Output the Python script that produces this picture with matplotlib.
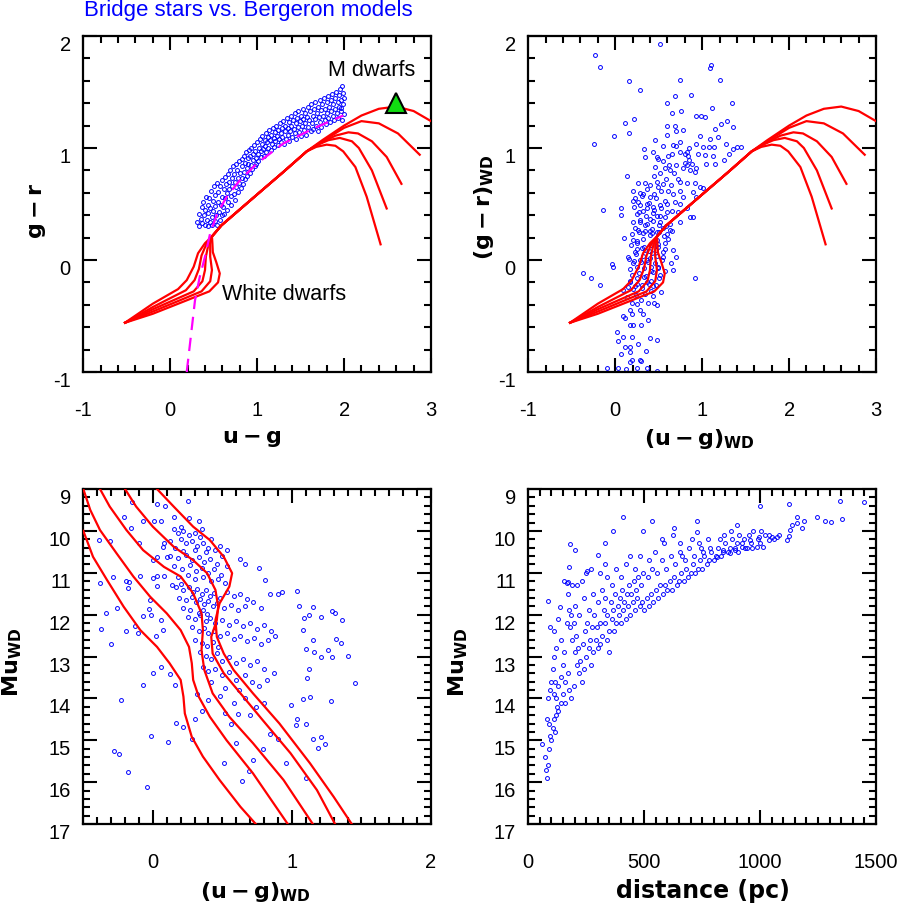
import numpy as np
import matplotlib
matplotlib.use("Agg")
import matplotlib.pyplot as plt
from matplotlib.ticker import MultipleLocator

plt.rcParams["font.family"] = ["Liberation Sans", "DejaVu Sans"]
plt.rcParams["axes.unicode_minus"] = False
plt.rcParams["mathtext.fontset"] = "dejavusans"

# ---------------- data ----------------
# top-left: bridge stars, (u-g, g-r)
tl_points = [
    (0.31, 0.34), (0.33, 0.41), (0.335, 0.30), (0.35, 0.37), (0.36, 0.47), (0.37, 0.33), (0.38, 0.52),
    (0.385, 0.40), (0.40, 0.31), (0.405, 0.45), (0.41, 0.56), (0.42, 0.36), (0.43, 0.49), (0.435, 0.30),
    (0.44, 0.42), (0.45, 0.55), (0.455, 0.34),
    (0.46, 0.46), (0.47, 0.62), (0.475, 0.38), (0.48, 0.31), (0.49, 0.53), (0.495, 0.44), (0.50, 0.66),
    (0.51, 0.35), (0.515, 0.58), (0.52, 0.48), (0.53, 0.40), (0.535, 0.69), (0.54, 0.31), (0.55, 0.52),
    (0.555, 0.61), (0.56, 0.43), (0.57, 0.36), (0.575, 0.66), (0.58, 0.49), (0.59, 0.56), (0.595, 0.40),
    (0.60, 0.71),
    (0.61, 0.47), (0.615, 0.63), (0.62, 0.41), (0.63, 0.55), (0.635, 0.74), (0.64, 0.68), (0.65, 0.45),
    (0.655, 0.60), (0.66, 0.77), (0.67, 0.52), (0.675, 0.70), (0.68, 0.63), (0.69, 0.80), (0.695, 0.57),
    (0.70, 0.49), (0.71, 0.73), (0.715, 0.66), (0.72, 0.84), (0.73, 0.59), (0.735, 0.77), (0.74, 0.70),
    (0.75, 0.54), (0.755, 0.86), (0.76, 0.65), (0.77, 0.80), (0.775, 0.73), (0.78, 0.61), (0.79, 0.88),
    (0.795, 0.69),
    (0.805, 0.78), (0.81, 0.64), (0.82, 0.90), (0.825, 0.73), (0.83, 0.84), (0.84, 0.68), (0.845, 0.93),
    (0.85, 0.79), (0.86, 0.87), (0.865, 0.72), (0.87, 0.96), (0.88, 0.82), (0.885, 0.75), (0.89, 0.91),
    (0.90, 0.86), (0.91, 0.98), (0.915, 0.78), (0.92, 0.93), (0.93, 0.85), (0.935, 1.00), (0.94, 0.81),
    (0.95, 0.95), (0.955, 0.89), (0.96, 1.03), (0.97, 0.84), (0.98, 0.97), (0.985, 0.91), (0.99, 0.86),
    (1.00, 1.05), (1.01, 0.95), (1.015, 0.88), (1.02, 1.00), (1.03, 1.08), (1.04, 0.92), (1.045, 0.97),
    (1.055, 1.04), (1.06, 1.11), (1.07, 0.99), (1.075, 0.93), (1.085, 1.07), (1.09, 1.02), (1.10, 1.13),
    (1.105, 0.96), (1.115, 1.05), (1.12, 1.10), (1.13, 1.00), (1.14, 1.16), (1.145, 1.07), (1.155, 0.98),
    (1.165, 1.12), (1.17, 1.04), (1.18, 1.18), (1.19, 1.09), (1.195, 1.01), (1.205, 1.14), (1.21, 1.06),
    (1.22, 1.20), (1.23, 1.11), (1.235, 1.03), (1.245, 1.16), (1.25, 1.08), (1.26, 1.22), (1.27, 1.13),
    (1.275, 1.05), (1.285, 1.18), (1.29, 1.10),
    (1.30, 1.24), (1.31, 1.04), (1.315, 1.15), (1.325, 1.20), (1.33, 1.08), (1.34, 1.27), (1.35, 1.12),
    (1.355, 1.18), (1.365, 1.23), (1.37, 1.06), (1.38, 1.15), (1.39, 1.29), (1.395, 1.20), (1.405, 1.10),
    (1.41, 1.25), (1.42, 1.17), (1.43, 1.31), (1.435, 1.13), (1.445, 1.22), (1.45, 1.08), (1.46, 1.27),
    (1.47, 1.19), (1.475, 1.33), (1.485, 1.14), (1.49, 1.24), (1.50, 1.29), (1.51, 1.11), (1.515, 1.20),
    (1.525, 1.35), (1.53, 1.26), (1.54, 1.16), (1.55, 1.31), (1.555, 1.22), (1.565, 1.12), (1.57, 1.28),
    (1.58, 1.37), (1.59, 1.19),
    (1.60, 1.25), (1.605, 1.33), (1.615, 1.15), (1.62, 1.39), (1.63, 1.22), (1.64, 1.29), (1.645, 1.17),
    (1.655, 1.35), (1.66, 1.26), (1.67, 1.41), (1.68, 1.20), (1.685, 1.31), (1.695, 1.37), (1.70, 1.15),
    (1.71, 1.28), (1.72, 1.43), (1.725, 1.23), (1.735, 1.34), (1.74, 1.19), (1.75, 1.39), (1.76, 1.29),
    (1.765, 1.45), (1.775, 1.25), (1.78, 1.35), (1.79, 1.21), (1.80, 1.41), (1.805, 1.31), (1.815, 1.46),
    (1.82, 1.27), (1.83, 1.37), (1.835, 1.23), (1.845, 1.43), (1.85, 1.33), (1.86, 1.48), (1.87, 1.29),
    (1.875, 1.39), (1.885, 1.25), (1.89, 1.45), (1.90, 1.35), (1.91, 1.50), (1.915, 1.31), (1.925, 1.41),
    (1.93, 1.27), (1.94, 1.47), (1.945, 1.37), (1.955, 1.53), (1.96, 1.33), (1.97, 1.43), (1.975, 1.25),
    (1.985, 1.49), (1.99, 1.39), (1.995, 1.30), (2.00, 1.45), (1.98, 1.55), (1.97, 1.36),
]

# top-right: white dwarf component, ((u-g)_WD, (g-r)_WD)
tr_points = [
    (-0.23, 1.83), (-0.18, 1.72), (0.16, 1.60), (0.28, 1.52), (0.52, 1.93), (0.74, 1.61), (1.09, 1.71),
    (1.10, 1.74), (1.20, 1.61), (0.69, 1.46), (0.87, 1.47), (0.60, 1.40), (1.34, 1.40), (-0.24, 1.04),
    (-0.01, 1.11), (0.11, 1.22), (0.22, 1.26), (0.16, 1.13), (0.65, 1.31), (0.76, 1.33), (0.60, 1.20),
    (0.69, 1.20), (0.78, 1.16), (0.93, 1.29), (0.99, 1.29), (1.03, 1.28), (1.11, 1.36), (1.22, 1.21),
    (1.29, 1.24), (1.36, 1.19), (1.15, 1.17), (1.18, 1.10), (1.09, 1.08), (0.98, 1.11), (0.93, 1.04),
    (1.01, 1.01), (1.08, 1.01), (1.14, 1.01), (1.27, 1.04), (1.36, 0.99), (1.40, 1.01), (1.45, 1.01),
    (1.31, 0.95), (1.25, 0.89), (1.13, 0.93), (1.15, 0.86), (1.05, 0.86), (1.03, 0.94), (0.95, 0.95),
    (0.82, 0.96), (0.84, 0.93), (0.74, 0.96), (0.70, 1.02), (0.67, 1.03), (0.55, 1.02), (0.46, 1.07),
    (0.33, 0.99), (0.43, 0.96), (0.49, 0.90), (0.61, 0.93), (0.80, 0.87), (0.83, 0.85), (0.85, 0.89),
    (0.88, 0.86), (0.93, 0.82), (0.92, 0.79), (0.86, 0.80), (0.78, 0.82), (0.70, 0.85), (0.63, 0.80),
    (0.57, 0.82), (0.46, 0.83), (0.34, 0.92), (0.13, 0.75), (0.26, 0.69), (0.34, 0.69), (0.40, 0.67),
    (0.48, 0.70), (0.55, 0.68), (0.64, 0.67), (0.74, 0.70), (0.83, 0.69), (0.92, 0.69), (0.98, 0.65),
    (1.01, 0.64), (0.93, 0.56), (0.90, 0.61), (0.78, 0.56), (0.74, 0.62), (0.67, 0.59), (0.61, 0.62),
    (0.49, 0.65), (0.40, 0.56), (0.32, 0.59), (0.20, 0.53), (0.26, 0.52), (0.36, 0.50), (0.44, 0.47),
    (0.51, 0.49), (0.59, 0.50), (0.69, 0.52), (0.74, 0.50), (0.72, 0.43), (0.65, 0.44), (0.57, 0.38),
    (0.48, 0.39), (0.40, 0.37), (0.32, 0.44), (0.25, 0.41), (0.28, 0.34), (0.23, 0.29), (0.32, 0.24),
    (0.40, 0.26), (0.48, 0.25), (0.55, 0.29), (0.63, 0.32), (0.74, 0.34), (0.86, 0.38), (0.89, 0.38),
    (0.83, 0.46), (-0.14, 0.45), (0.07, 0.46), (0.07, 0.40), (0.10, 0.20), (0.21, 0.18), (0.25, 0.10),
    (0.34, 0.09), (0.42, 0.06), (0.49, 0.12), (0.57, 0.10), (0.61, 0.19), (0.67, 0.09), (0.70, 0.03),
    (0.64, -0.03), (0.55, 0.03), (0.49, -0.06), (0.41, -0.06), (0.36, 0.00), (0.28, 0.00), (0.21, -0.03),
    (0.15, 0.03), (-0.04, -0.04), (-0.02, -0.06), (-0.37, -0.12), (-0.28, -0.16), (-0.18, -0.22),
    (0.67, -0.09), (0.92, -0.16), (0.53, -0.29), (0.44, -0.23), (0.36, -0.20), (0.25, -0.21),
    (0.17, -0.20), (0.09, -0.27), (0.13, -0.33), (0.19, -0.38), (0.25, -0.39), (0.30, -0.36),
    (0.38, -0.38), (0.45, -0.38), (0.48, -0.40), (0.17, -0.45), (0.19, -0.48), (0.28, -0.45),
    (0.32, -0.48), (0.09, -0.50), (0.11, -0.52), (0.17, -0.58), (0.20, -0.58), (0.30, -0.58),
    (0.38, -0.54), (0.02, -0.64), (0.03, -0.72), (0.09, -0.69), (0.19, -0.69), (0.26, -0.75),
    (0.40, -0.70), (0.48, -0.71), (0.11, -0.78), (0.17, -0.78), (0.35, -0.81), (0.17, -0.82),
    (0.07, -0.84), (0.17, -0.91), (0.19, -0.89), (0.28, -0.89), (0.30, -0.90), (-0.10, -0.96),
    (0.03, -0.96), (0.12, -0.97), (0.25, -0.96), (0.36, -0.96), (0.48, -0.99),
    (0.21, 0.62), (0.23, 0.55), (0.29, 0.60), (0.31, 0.57), (0.37, 0.63), (0.39, 0.51), (0.45, 0.59),
    (0.47, 0.55), (0.53, 0.62), (0.57, 0.53), (0.22, 0.47), (0.27, 0.43), (0.29, 0.49), (0.35, 0.39),
    (0.37, 0.46), (0.43, 0.42), (0.45, 0.45), (0.51, 0.39), (0.53, 0.46), (0.59, 0.43), (0.21, 0.34),
    (0.26, 0.27), (0.28, 0.36), (0.34, 0.31), (0.36, 0.32), (0.42, 0.28), (0.44, 0.35), (0.50, 0.31),
    (0.52, 0.34), (0.58, 0.30), (0.63, 0.27), (0.19, 0.23), (0.25, 0.17), (0.27, 0.25), (0.32, 0.19),
    (0.34, 0.26), (0.40, 0.22), (0.42, 0.24), (0.48, 0.18), (0.50, 0.25), (0.56, 0.21), (0.59, 0.23),
    (0.65, 0.26), (0.18, 0.13), (0.23, 0.07), (0.25, 0.15), (0.31, 0.11), (0.33, 0.12), (0.39, 0.08),
    (0.41, 0.13), (0.47, 0.09), (0.49, 0.14), (0.55, 0.07), (0.57, 0.15), (0.16, 0.01), (0.22, -0.01),
    (0.24, 0.05), (0.30, -0.02), (0.32, 0.04), (0.38, -0.02), (0.40, 0.02), (0.46, -0.03), (0.48, 0.04),
    (0.54, 0.00), (0.17, -0.08), (0.19, -0.13), (0.25, -0.06), (0.27, -0.12), (0.33, -0.07),
    (0.35, -0.14), (0.41, -0.10), (0.43, -0.11), (0.49, -0.07), (0.51, -0.13), (0.57, -0.10),
    (0.17, -0.19), (0.23, -0.23), (0.25, -0.16), (0.31, -0.22), (0.33, -0.15), (0.39, -0.21),
    (0.41, -0.19), (0.47, -0.22), (0.50, -0.16), (0.21, -0.26), (0.24, -0.31), (0.31, -0.25),
    (0.34, -0.30), (0.41, -0.28), (0.44, -0.32), (0.15, -0.24), (0.45, 0.75), (0.52, 0.78),
    (0.58, 0.72), (0.62, 0.85), (0.68, 0.78), (0.55, 0.88), (0.48, 0.92), (0.72, 0.72), (0.65, 0.95),
    (0.80, 0.95), (0.85, 1.00), (0.75, 1.05), (0.60, 1.12), (0.70, 1.15),
]

# bottom-left: ((u-g)_WD, Mu_WD)
bl_points = [
    (0.25, 9.29), (0.03, 9.37), (0.09, 9.41), (-0.15, 9.30), (-0.21, 9.66), (-0.16, 9.92), (-0.07, 9.76),
    (0.01, 9.76), (0.06, 9.76), (-0.39, 10.22), (-0.31, 10.24), (-0.10, 10.30), (0.08, 10.30),
    (0.15, 9.66), (0.20, 9.90), (0.26, 9.70), (0.33, 9.76), (0.35, 9.96), (0.53, 10.46), (0.63, 10.66),
    (0.66, 10.78), (0.76, 10.88), (0.81, 11.17), (1.04, 11.44), (0.93, 11.45), (0.84, 11.51),
    (0.90, 11.51), (1.05, 11.79), (1.15, 11.81), (1.12, 12.01), (1.09, 12.09), (1.21, 12.05),
    (1.29, 11.91), (1.31, 11.97), (1.36, 12.14), (1.08, 12.37), (1.15, 12.61), (1.10, 12.82),
    (1.16, 12.90), (1.21, 13.00), (1.26, 12.85), (1.29, 13.00), (1.32, 12.58), (1.35, 12.67),
    (1.40, 12.98), (1.45, 13.64), (1.12, 13.30), (1.11, 13.52), (1.13, 13.96), (1.08, 14.02),
    (1.28, 14.06), (0.99, 14.16), (1.04, 14.50), (1.03, 14.64), (1.10, 14.61), (1.15, 14.98),
    (1.21, 14.93), (1.19, 15.19), (1.24, 15.09), (1.10, 15.91), (0.96, 15.55), (0.90, 14.96),
    (0.84, 14.84), (0.79, 15.22), (0.72, 15.47), (0.69, 15.73), (0.64, 15.97), (0.60, 15.06),
    (0.61, 14.38), (0.56, 14.62), (0.51, 15.54), (0.28, 14.98), (0.17, 14.58), (0.22, 14.69),
    (0.11, 15.04), (-0.01, 14.89), (-0.04, 16.11), (-0.18, 15.77), (-0.28, 15.25), (-0.24, 15.33),
    (-0.23, 14.04), (-0.07, 13.67), (0.00, 13.39), (0.06, 13.26), (0.16, 13.67), (0.12, 13.42),
    (-0.30, 12.69), (-0.37, 12.35), (-0.34, 11.97), (-0.26, 11.85), (-0.19, 12.39), (-0.13, 12.27),
    (-0.11, 12.45), (-0.07, 12.03), (-0.03, 11.87), (-0.01, 12.01), (0.06, 12.14), (0.07, 12.37),
    (0.02, 12.51), (-0.19, 11.20), (-0.18, 11.37), (-0.17, 11.21), (-0.29, 11.09), (-0.38, 11.25),
    (-0.09, 11.08), (0.00, 11.12), (0.03, 11.32), (-0.02, 11.65), (0.03, 11.08), (0.08, 11.08),
    (0.00, 10.70), (0.03, 10.63), (0.07, 10.38), (0.10, 10.62),
    (0.15, 9.95), (0.18, 10.05), (0.22, 10.00), (0.26, 10.10), (0.30, 10.05), (0.34, 10.15),
    (0.20, 10.20), (0.24, 10.30), (0.28, 10.25), (0.32, 10.35), (0.36, 10.28), (0.40, 10.40),
    (0.12, 10.25), (0.16, 10.40), (0.42, 10.20), (0.38, 10.50), (0.30, 10.45), (0.22, 10.48),
    (0.45, 10.45), (0.48, 10.35), (0.12, 10.60), (0.18, 10.65), (0.24, 10.58), (0.28, 10.70),
    (0.33, 10.62), (0.37, 10.75), (0.41, 10.66), (0.46, 10.78), (0.50, 10.60), (0.15, 10.85),
    (0.21, 10.90), (0.27, 10.82), (0.31, 10.95), (0.35, 10.88), (0.40, 11.00), (0.44, 10.92),
    (0.49, 11.05), (0.53, 10.85), (0.18, 11.10), (0.25, 11.05), (0.30, 11.15), (0.36, 11.10),
    (0.42, 11.20), (0.47, 11.15), (0.52, 11.25), (0.14, 11.30), (0.17, 11.35), (0.20, 11.28),
    (0.22, 11.40), (0.26, 11.33), (0.29, 11.45), (0.32, 11.38), (0.35, 11.50), (0.38, 11.42),
    (0.41, 11.55), (0.44, 11.48), (0.48, 11.60), (0.53, 11.45), (0.58, 11.55), (0.63, 11.50),
    (0.68, 11.62), (0.19, 11.60), (0.24, 11.65), (0.28, 11.58), (0.31, 11.70), (0.34, 11.63),
    (0.37, 11.75), (0.40, 11.68), (0.43, 11.80), (0.46, 11.72), (0.51, 11.85), (0.56, 11.78),
    (0.61, 11.90), (0.66, 11.80), (0.72, 11.70), (0.78, 11.85), (0.22, 11.85), (0.27, 11.90),
    (0.33, 11.95), (0.36, 11.88), (0.39, 11.98), (0.25, 12.05), (0.30, 12.10), (0.34, 12.02),
    (0.38, 12.15), (0.41, 12.08), (0.45, 12.20), (0.50, 12.12), (0.55, 12.25), (0.60, 12.15),
    (0.65, 12.28), (0.70, 12.20), (0.75, 12.35), (0.80, 12.25), (0.85, 12.40), (0.28, 12.30),
    (0.33, 12.38), (0.37, 12.32), (0.40, 12.45), (0.44, 12.40), (0.48, 12.52), (0.53, 12.45),
    (0.58, 12.58), (0.63, 12.50), (0.68, 12.62), (0.73, 12.55), (0.78, 12.70), (0.83, 12.60),
    (0.88, 12.52), (0.30, 12.60), (0.35, 12.68), (0.39, 12.75), (0.43, 12.65), (0.47, 12.78),
    (0.34, 12.90), (0.38, 12.98), (0.42, 13.05), (0.46, 12.92), (0.50, 13.10), (0.55, 13.00),
    (0.60, 13.15), (0.65, 13.05), (0.70, 13.20), (0.75, 13.10), (0.80, 13.30), (0.36, 13.25),
    (0.40, 13.35), (0.45, 13.30), (0.50, 13.45), (0.55, 13.38), (0.60, 13.55), (0.66, 13.45),
    (0.71, 13.62), (0.76, 13.70), (0.82, 13.55), (0.87, 13.40), (0.42, 13.60), (0.52, 13.75),
    (0.62, 13.80), (0.32, 13.90), (0.40, 14.05), (0.48, 13.95), (0.58, 14.10), (0.66, 14.00),
    (0.74, 14.20), (0.80, 14.12), (0.35, 14.30), (0.52, 14.35), (0.70, 14.40), (0.30, 14.50),
]

# bottom-right: (distance in pc, Mu_WD)
br_points = [
    (999, 9.41), (1125, 9.37), (1345, 9.29), (1450, 9.30), (1352, 9.72), (1306, 9.78), (1280, 9.76),
    (1244, 9.68), (1191, 9.76), (1158, 9.66), (1179, 9.94), (1158, 9.82), (1136, 9.86), (1129, 9.98),
    (1114, 10.22), (1125, 10.12), (1071, 10.15), (1050, 10.14), (1040, 10.22), (1014, 10.38),
    (997, 10.15), (985, 10.38), (956, 10.22), (942, 10.42), (920, 10.38), (891, 10.46), (870, 10.54),
    (841, 10.46), (812, 10.62), (899, 9.86), (726, 9.76), (726, 10.02), (654, 10.28), (628, 9.92),
    (578, 10.20), (532, 9.76), (496, 10.00), (410, 9.68), (367, 10.00), (331, 10.30), (302, 10.58),
    (180, 10.32), (201, 10.45), (252, 10.96), (175, 10.86), (86, 11.68), (93, 12.29), (137, 11.81),
    (165, 11.25), (173, 11.21),
    (60, 15.1), (70, 15.4), (75, 15.7), (80, 15.9), (85, 15.6), (90, 15.2), (95, 14.9), (100, 15.0),
    (105, 14.7), (110, 14.5), (115, 14.8), (120, 14.4), (125, 14.2), (90, 14.6), (80, 14.5), (85, 14.0),
    (95, 13.8), (100, 13.6), (110, 13.9), (120, 14.0), (130, 14.3), (140, 14.1), (150, 13.9),
    (105, 13.3), (115, 13.6), (130, 13.7), (140, 13.5), (150, 13.2), (160, 13.6), (170, 13.4),
    (175, 13.8), (185, 14.0), (160, 14.1), (195, 13.7),
    (180, 12.3), (190, 12.6), (200, 12.9), (210, 13.2), (220, 13.4), (230, 13.6), (240, 13.3),
    (250, 13.0), (260, 12.8), (270, 13.2), (280, 12.9), (290, 12.6), (300, 12.8), (185, 12.0),
    (195, 12.2), (205, 12.5), (215, 12.8), (225, 13.1), (235, 12.7), (245, 12.4), (255, 12.2),
    (265, 12.6), (275, 12.3), (285, 12.0), (295, 12.3), (200, 11.8), (220, 12.0), (240, 11.6),
    (260, 11.9), (280, 11.5), (300, 11.7), (190, 11.3), (210, 11.3), (230, 11.2), (250, 11.0),
    (270, 10.9), (130, 12.1), (140, 12.6), (155, 12.9), (165, 12.2), (170, 11.5), (120, 12.8),
    (110, 13.0), (110, 12.4), (175, 11.9), (155, 11.2),
    (310, 12.7), (320, 12.5), (330, 12.2), (340, 12.6), (350, 12.4), (360, 12.1), (370, 12.4),
    (380, 12.2), (390, 12.0), (400, 12.2), (410, 11.9), (420, 12.1), (430, 11.8), (440, 12.0),
    (450, 11.7), (460, 11.9), (470, 11.6), (480, 11.8), (490, 11.7), (500, 11.9), (310, 12.2),
    (325, 11.9), (340, 12.0), (355, 11.7), (365, 11.9), (375, 11.5), (385, 11.8), (395, 11.6),
    (405, 11.4), (415, 11.7), (425, 11.5), (435, 11.3), (445, 11.5), (455, 11.2), (465, 11.4),
    (475, 11.1), (485, 11.3), (495, 11.0), (320, 11.4), (340, 11.1), (360, 11.3), (380, 10.9),
    (400, 11.1), (420, 10.8), (440, 10.6), (460, 10.9), (480, 10.6), (330, 11.6), (350, 12.9),
    (310, 11.0), (330, 10.8),
    (510, 11.6), (520, 11.8), (530, 11.5), (540, 11.7), (550, 11.4), (560, 11.6), (570, 11.3),
    (580, 11.5), (590, 11.3), (600, 11.4), (610, 11.2), (620, 11.4), (630, 11.1), (640, 11.3),
    (650, 11.2), (660, 11.0), (670, 11.2), (680, 10.9), (690, 11.1), (700, 11.0), (710, 10.8),
    (720, 11.0), (730, 10.9), (740, 10.7), (750, 10.9), (760, 10.6), (770, 10.8), (780, 10.7),
    (790, 10.5), (800, 10.7), (515, 11.1), (535, 10.9), (555, 11.0), (575, 10.7), (595, 10.9),
    (615, 10.6), (635, 10.8), (655, 10.5), (675, 10.7), (695, 10.4), (715, 10.6), (735, 10.3),
    (755, 10.5), (775, 10.2), (545, 10.5), (585, 10.3), (625, 10.1), (665, 10.6), (705, 10.2),
    (745, 10.4), (785, 10.4), (520, 10.7),
    (810, 10.6), (820, 10.4), (830, 10.6), (840, 10.5), (850, 10.3), (860, 10.5), (870, 10.4),
    (880, 10.2), (890, 10.4), (900, 10.3), (910, 10.1), (920, 10.3), (930, 10.2), (950, 10.1),
    (960, 10.3), (970, 10.0), (990, 10.2), (1000, 10.3), (1020, 10.1), (1040, 10.1), (1060, 10.2),
    (1080, 10.1), (825, 10.2), (845, 10.1), (875, 10.0), (905, 10.5), (935, 10.4), (965, 10.4),
    (1005, 10.0),
]

# Bergeron model tracks in (u-g, g-r): S-shaped blue part, shared part, red branch
model_s_ug = [
    [-0.52, -0.20, 0.09, 0.19, 0.27, 0.32, 0.40, 0.48],
    [-0.52, -0.20, 0.18, 0.28, 0.33, 0.36, 0.42, 0.48],
    [-0.52, -0.20, 0.27, 0.37, 0.40, 0.41, 0.44, 0.48],
    [-0.52, -0.20, 0.36, 0.46, 0.48, 0.46, 0.46, 0.48],
    [-0.52, -0.20, 0.45, 0.55, 0.57, 0.53, 0.49, 0.485, 0.48],
]
model_s_gr = [
    [-0.56, -0.39, -0.26, -0.18, -0.06, 0.06, 0.15, 0.21],
    [-0.56, -0.42, -0.27, -0.18, -0.08, 0.04, 0.15, 0.21],
    [-0.56, -0.44, -0.28, -0.19, -0.09, 0.03, 0.14, 0.21],
    [-0.56, -0.46, -0.28, -0.19, -0.09, 0.03, 0.14, 0.21],
    [-0.56, -0.48, -0.28, -0.20, -0.12, -0.02, 0.07, 0.15, 0.21],
]
model_mid_ug = [0.59, 1.00, 1.30, 1.57]
model_mid_gr = [0.31, 0.585, 0.785, 0.97]
model_end_ug = [
    [1.75, 2.00, 2.20, 2.40, 2.60, 2.80, 3.00],
    [1.75, 2.00, 2.20, 2.40, 2.62, 2.87],
    [1.72, 1.90, 2.05, 2.16, 2.32, 2.49, 2.66],
    [1.70, 1.82, 1.95, 2.09, 2.17, 2.32, 2.49],
    [1.68, 1.80, 1.90, 1.99, 2.13, 2.26, 2.42],
]
model_end_gr = [
    [1.07, 1.20, 1.29, 1.35, 1.37, 1.33, 1.24],
    [1.06, 1.18, 1.24, 1.22, 1.13, 0.94],
    [1.04, 1.11, 1.14, 1.13, 1.06, 0.92, 0.68],
    [1.03, 1.07, 1.09, 1.06, 1.00, 0.80, 0.46],
    [1.01, 1.03, 1.02, 0.97, 0.83, 0.565, 0.14],
]

# stellar locus (dashed)
locus_ug = [0.19, 0.285, 0.34, 0.40, 0.46, 0.54, 0.65, 0.80, 0.995, 1.30, 1.65, 1.99]
locus_gr = [-1.00, -0.36, -0.15, 0.03, 0.24, 0.415, 0.565, 0.71, 0.86, 1.04, 1.175, 1.29]

mdwarf_ug, mdwarf_gr = 2.60, 1.40

# model cooling tracks in ((u-g)_WD, Mu_WD)
track_ug = [
    [-0.50, -0.43, -0.33, -0.21, -0.09, 0.03, 0.12, 0.20, 0.22, 0.23, 0.28, 0.36, 0.48, 0.63, 0.74],
    [-0.50, -0.45, -0.38, -0.26, -0.14, -0.02, 0.10, 0.20, 0.26, 0.28, 0.29, 0.33, 0.41, 0.53, 0.72, 0.97],
    [-0.38, -0.31, -0.19, -0.07, 0.08, 0.20, 0.29, 0.35, 0.36, 0.35, 0.37, 0.43, 0.55, 0.72, 0.94, 1.15],
    [-0.20, -0.12, 0.00, 0.15, 0.29, 0.39, 0.45, 0.47, 0.46, 0.42, 0.43, 0.51, 0.63, 0.79, 0.99, 1.18, 1.31],
    [0.03, 0.15, 0.29, 0.41, 0.51, 0.57, 0.55, 0.48, 0.45, 0.46, 0.51, 0.58, 0.72, 0.91, 1.13, 1.30, 1.43],
]
track_mu = [
    [10.00, 10.62, 11.17, 11.81, 12.37, 12.77, 13.16, 13.56, 13.96, 14.36, 14.92, 15.39, 15.95, 16.59, 17.00],
    [9.00, 9.50, 9.98, 10.54, 11.09, 11.57, 11.97, 12.37, 12.77, 13.16, 13.56, 13.96, 14.44, 15.00, 15.79, 17.00],
    [9.00, 9.42, 9.98, 10.46, 10.86, 11.09, 11.49, 11.97, 12.37, 12.85, 13.32, 13.88, 14.44, 15.07, 15.95, 17.00],
    [9.00, 9.42, 9.90, 10.38, 10.70, 11.01, 11.41, 11.81, 12.13, 12.53, 12.93, 13.40, 13.88, 14.52, 15.31, 16.19, 17.00],
    [9.00, 9.42, 9.90, 10.22, 10.62, 11.01, 11.33, 11.73, 12.13, 12.53, 12.93, 13.32, 13.88, 14.60, 15.55, 16.35, 17.00],
]

BLUE = "#0000ff"
RED = "#ff0000"


def style_axes(ax, xlim, ylim, xmajor, xminor, ymajor, yminor, xticks):
    ax.set_xlim(*xlim)
    ax.set_ylim(*ylim)
    ax.xaxis.set_major_locator(MultipleLocator(xmajor))
    ax.xaxis.set_minor_locator(MultipleLocator(xminor))
    ax.yaxis.set_major_locator(MultipleLocator(ymajor))
    ax.yaxis.set_minor_locator(MultipleLocator(yminor))
    ax.set_xticks(xticks)
    ax.tick_params(which="both", direction="in", top=True, right=True, width=1.5, labelsize=14.5)
    ax.tick_params(which="major", length=10)
    ax.tick_params(which="minor", length=5)
    ax.tick_params(axis="x", pad=21)
    ax.tick_params(axis="y", pad=9)
    for lab in ax.get_yticklabels():
        lab.set_verticalalignment("top")
    for s in ax.spines.values():
        s.set_linewidth(1.6)


def scatter(ax, pts):
    arr = np.array(pts, dtype=float).T
    ax.plot(arr[0], arr[1], "o", ms=2.8, mfc="none", mec=BLUE, mew=0.7, zorder=2)


def draw_models(ax):
    for su, sg, eu, eg in zip(model_s_ug, model_s_gr, model_end_ug, model_end_gr):
        u = su + model_mid_ug + eu
        g = sg + model_mid_gr + eg
        ax.plot(u, g, color=RED, lw=1.6, zorder=3)


fig = plt.figure(figsize=(9, 9.08), dpi=100)
W, H = 900.0, 908.0
aw, ah = 347.7 / W, 336 / H
ax1 = fig.add_axes([83.3 / W, 1 - 372 / H, aw, ah])
ax2 = fig.add_axes([528.3 / W, 1 - 372 / H, aw, ah])
ax3 = fig.add_axes([83.3 / W, 1 - 824 / H, aw, 335 / H])
ax4 = fig.add_axes([528.3 / W, 1 - 824 / H, aw, 335 / H])

lab_kw = dict(fontsize=16, family="DejaVu Sans", fontweight="bold")

# ---- top-left ----
scatter(ax1, tl_points)
draw_models(ax1)
ax1.plot(locus_ug, locus_gr, color="#ff00ff", lw=1.6, ls=(0, (6, 3.5)), zorder=4)
ax1.plot([mdwarf_ug], [mdwarf_gr], "^", ms=14, mfc="#11dd11", mec="black", mew=1.5, zorder=5)
ax1.text(2.32, 1.69, "M dwarfs", fontsize=15.5, ha="center", va="center")
ax1.text(0.60, -0.305, "White dwarfs", fontsize=15.5, ha="left", va="center")
style_axes(ax1, (-1, 3), (-1, 2), 1, 0.2, 1, 0.2, [-1, 0, 1, 2, 3])
ax1.text(0.484, -0.212, r"$\mathbf{u-g}$", transform=ax1.transAxes, ha="center", va="baseline", **lab_kw)
ax1.text(-0.130, 0.479, r"$\mathbf{g-r}$", transform=ax1.transAxes, ha="center", va="center",
         rotation=90, **lab_kw)

# ---- top-right ----
scatter(ax2, tr_points)
draw_models(ax2)
style_axes(ax2, (-1, 3), (-1, 2), 1, 0.2, 1, 0.2, [-1, 0, 1, 2, 3])
ax2.text(0.492, -0.217, r"$\mathbf{(u-g)_{WD}}$", transform=ax2.transAxes, ha="center", va="baseline",
         **lab_kw)
ax2.text(-0.127, 0.491, r"$\mathbf{(g-r)_{WD}}$", transform=ax2.transAxes, ha="center", va="center",
         rotation=90, **lab_kw)

# ---- bottom-left ----
scatter(ax3, bl_points)
for u, m in zip(track_ug, track_mu):
    ax3.plot(u, m, color=RED, lw=1.6, zorder=3)
style_axes(ax3, (-0.5, 2), (17, 9), 1, 0.1, 1, 0.2, [0, 1, 2])
ax3.text(0.494, -0.221, r"$\mathbf{(u-g)_{WD}}$", transform=ax3.transAxes, ha="center", va="baseline",
         **lab_kw)
ax3.text(-0.205, 0.484, r"$\mathbf{Mu_{WD}}$", transform=ax3.transAxes, ha="center", va="center",
         rotation=90, **lab_kw)

# ---- bottom-right ----
scatter(ax4, br_points)
style_axes(ax4, (0, 1500), (17, 9), 500, 50, 1, 0.2, [0, 500, 1000, 1500])
ax4.text(0.502, -0.221, "distance (pc)", transform=ax4.transAxes, ha="center", va="baseline",
         fontsize=17, family="DejaVu Sans", fontweight="bold")
ax4.text(-0.201, 0.484, r"$\mathbf{Mu_{WD}}$", transform=ax4.transAxes, ha="center", va="center",
         rotation=90, **lab_kw)

fig.text(84 / W, 1 - 16 / H, "Bridge stars vs. Bergeron models", color=BLUE, fontsize=16,
         ha="left", va="baseline")

fig.savefig("out.png", dpi=100)
